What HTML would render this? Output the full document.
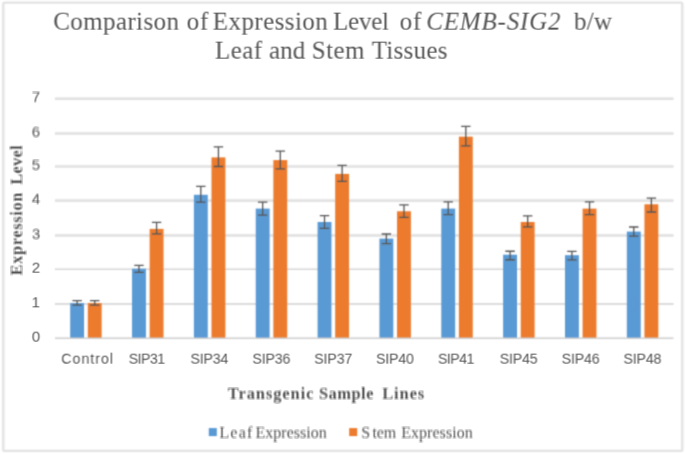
<!DOCTYPE html>
<html>
<head>
<meta charset="utf-8">
<title>Comparison of Expression Level of CEMB-SIG2 b/w Leaf and Stem Tissues</title>
<style>
html, body { margin: 0; padding: 0; background: #ffffff; }
body { width: 685px; height: 454px; overflow: hidden; font-family: "Liberation Sans", sans-serif; }
svg { display: block; }
text { white-space: pre; }
</style>
</head>
<body>
<svg width="685" height="454" viewBox="0 0 685 454">
<defs>
<g id="shapes">
<rect x="-10" y="-10" width="705" height="474" fill="#ffffff"/>
<rect x="3.3" y="2.7" width="679" height="448.2" rx="1.5" ry="1.5" fill="none" stroke="#e3e3e3" stroke-width="2.3"/>
<g stroke="#e1e1e1" stroke-width="2.4">
<line x1="55.0" y1="303.95" x2="673.5" y2="303.95" stroke="#dddddd" stroke-width="2.0"/>
<line x1="55.0" y1="269.30" x2="673.5" y2="269.30" stroke="#d8d8d8" stroke-width="1.5"/>
<line x1="55.0" y1="235.55" x2="673.5" y2="235.55" stroke="#e1e1e1" stroke-width="2.5"/>
<line x1="55.0" y1="200.70" x2="673.5" y2="200.70" stroke="#e3e3e3" stroke-width="2.8"/>
<line x1="55.0" y1="166.50" x2="673.5" y2="166.50" stroke="#e2e2e2" stroke-width="2.6"/>
<line x1="55.0" y1="133.50" x2="673.5" y2="133.50" stroke="#e1e1e1" stroke-width="2.5"/>
<line x1="55.0" y1="98.75" x2="673.5" y2="98.75" stroke="#e1e1e1" stroke-width="2.4"/>
</g>
<g>
<rect x="70.19" y="303.10" width="13.87" height="35.00" fill="#5b9bd5"/>
<rect x="87.80" y="303.10" width="13.87" height="35.00" fill="#ed7d31"/>
<rect x="132.04" y="268.70" width="13.87" height="69.40" fill="#5b9bd5"/>
<rect x="149.65" y="228.90" width="13.87" height="109.20" fill="#ed7d31"/>
<rect x="193.89" y="194.80" width="13.87" height="143.30" fill="#5b9bd5"/>
<rect x="211.50" y="157.40" width="13.87" height="180.70" fill="#ed7d31"/>
<rect x="255.74" y="208.60" width="13.87" height="129.50" fill="#5b9bd5"/>
<rect x="273.35" y="160.10" width="13.87" height="178.00" fill="#ed7d31"/>
<rect x="317.59" y="222.00" width="13.87" height="116.10" fill="#5b9bd5"/>
<rect x="335.20" y="173.90" width="13.87" height="164.20" fill="#ed7d31"/>
<rect x="379.44" y="238.60" width="13.87" height="99.50" fill="#5b9bd5"/>
<rect x="397.05" y="211.30" width="13.87" height="126.80" fill="#ed7d31"/>
<rect x="441.29" y="208.60" width="13.87" height="129.50" fill="#5b9bd5"/>
<rect x="458.90" y="136.65" width="13.87" height="201.45" fill="#ed7d31"/>
<rect x="503.14" y="254.70" width="13.87" height="83.40" fill="#5b9bd5"/>
<rect x="520.75" y="222.00" width="13.87" height="116.10" fill="#ed7d31"/>
<rect x="564.99" y="255.20" width="13.87" height="82.90" fill="#5b9bd5"/>
<rect x="582.60" y="208.60" width="13.87" height="129.50" fill="#ed7d31"/>
<rect x="626.84" y="231.60" width="13.87" height="106.50" fill="#5b9bd5"/>
<rect x="644.45" y="204.30" width="13.87" height="133.80" fill="#ed7d31"/>
</g>
<line x1="55.0" y1="338.30" x2="673.5" y2="338.30" stroke="#d2d2d2" stroke-width="1.5"/>
<g stroke="#595959" stroke-width="1.3" fill="none">
<path d="M77.12 300.70V305.20M72.42 300.70H81.82M72.42 305.20H81.82"/>
<path d="M94.73 300.70V305.20M90.03 300.70H99.43M90.03 305.20H99.43"/>
<path d="M138.97 265.45V272.35M134.27 265.45H143.67M134.27 272.35H143.67"/>
<path d="M156.58 222.40V233.80M151.88 222.40H161.28M151.88 233.80H161.28"/>
<path d="M200.82 186.30V202.20M196.12 186.30H205.52M196.12 202.20H205.52"/>
<path d="M218.43 146.90V166.50M213.73 146.90H223.13M213.73 166.50H223.13"/>
<path d="M262.67 202.10V215.10M257.97 202.10H267.37M257.97 215.10H267.37"/>
<path d="M280.28 151.20V168.90M275.58 151.20H284.98M275.58 168.90H284.98"/>
<path d="M324.52 215.60V228.40M319.82 215.60H329.22M319.82 228.40H329.22"/>
<path d="M342.13 165.40V181.30M337.43 165.40H346.83M337.43 181.30H346.83"/>
<path d="M386.37 234.00V243.70M381.67 234.00H391.07M381.67 243.70H391.07"/>
<path d="M403.98 204.95V217.45M399.28 204.95H408.68M399.28 217.45H408.68"/>
<path d="M448.22 201.90V214.70M443.52 201.90H452.92M443.52 214.70H452.92"/>
<path d="M465.83 126.30V145.80M461.13 126.30H470.53M461.13 145.80H470.53"/>
<path d="M510.07 251.25V259.75M505.37 251.25H514.77M505.37 259.75H514.77"/>
<path d="M527.68 215.80V226.90M522.98 215.80H532.38M522.98 226.90H532.38"/>
<path d="M571.92 251.30V259.80M567.22 251.30H576.62M567.22 259.80H576.62"/>
<path d="M589.53 201.90V214.60M584.83 201.90H594.23M584.83 214.60H594.23"/>
<path d="M633.77 227.00V236.20M629.07 227.00H638.47M629.07 236.20H638.47"/>
<path d="M651.38 198.10V212.00M646.68 198.10H656.08M646.68 212.00H656.08"/>
</g>
<rect x="208.8" y="428.1" width="8" height="8" fill="#5b9bd5"/>
<rect x="349.2" y="428.1" width="8" height="8" fill="#ed7d31"/>
</g>
<g id="texts">
<text x="53.20" y="29.50" font-family="'Liberation Serif', serif" font-size="25" fill="#595959" letter-spacing="0.398">Comparison</text>
<text x="186.65" y="29.50" font-family="'Liberation Serif', serif" font-size="25" fill="#595959" letter-spacing="0.900">of</text>
<text x="212.80" y="29.50" font-family="'Liberation Serif', serif" font-size="25" fill="#595959" letter-spacing="0.434">Expression</text>
<text x="333.10" y="29.50" font-family="'Liberation Serif', serif" font-size="25" fill="#595959" letter-spacing="-0.241">Level</text>
<text x="399.65" y="29.50" font-family="'Liberation Serif', serif" font-size="25" fill="#595959" letter-spacing="0.900">of</text>
<text x="426.30" y="29.50" font-family="'Liberation Serif', serif" font-size="25" fill="#595959" font-style="italic" letter-spacing="0.807">CEMB-SIG2</text>
<text x="574.00" y="29.50" font-family="'Liberation Serif', serif" font-size="25" fill="#595959" letter-spacing="0.277">b/w</text>
<text x="215.00" y="58.60" font-family="'Liberation Serif', serif" font-size="25" fill="#595959" letter-spacing="0.446">Leaf</text>
<text x="269.00" y="58.60" font-family="'Liberation Serif', serif" font-size="25" fill="#595959" letter-spacing="0.052">and</text>
<text x="311.80" y="58.60" font-family="'Liberation Serif', serif" font-size="25" fill="#595959" letter-spacing="0.451">Stem</text>
<text x="371.70" y="58.60" font-family="'Liberation Serif', serif" font-size="25" fill="#595959" letter-spacing="0.285">Tissues</text>
<text x="227.80" y="399.10" font-family="'Liberation Serif', serif" font-size="16.4" fill="#595959" font-weight="bold" letter-spacing="0.949">Transgenic</text>
<text x="319.00" y="399.10" font-family="'Liberation Serif', serif" font-size="16.4" fill="#595959" font-weight="bold" letter-spacing="0.508">Sample</text>
<text x="382.20" y="399.10" font-family="'Liberation Serif', serif" font-size="16.4" fill="#595959" font-weight="bold" letter-spacing="0.951">Lines</text>
<text transform="translate(22.00 275.3) rotate(-90)" x="-0.20" y="0" font-family="'Liberation Serif', serif" font-size="16.4" fill="#595959" font-weight="bold" letter-spacing="0.651">Expression</text>
<text transform="translate(22.00 275.3) rotate(-90)" x="90.50" y="0" font-family="'Liberation Serif', serif" font-size="16.4" fill="#595959" font-weight="bold" letter-spacing="0.276">Level</text>
<text x="219.40" y="438.00" font-family="'Liberation Serif', serif" font-size="16" fill="#595959" letter-spacing="1.208">Leaf</text>
<text x="255.50" y="438.00" font-family="'Liberation Serif', serif" font-size="16" fill="#595959" letter-spacing="0.011">Expression</text>
<text x="361.20" y="438.00" font-family="'Liberation Serif', serif" font-size="16" fill="#595959">S</text>
<text x="372.40" y="438.00" font-family="'Liberation Serif', serif" font-size="16" fill="#595959" letter-spacing="-0.123">tem</text>
<text x="401.20" y="438.00" font-family="'Liberation Serif', serif" font-size="16" fill="#595959" letter-spacing="0.044">Expression</text>
<text x="61.30" y="363.80" font-family="'Liberation Sans', sans-serif" font-size="14.2" fill="#595959" letter-spacing="0.997">Control</text>
<text x="128.70" y="363.80" font-family="'Liberation Sans', sans-serif" font-size="14.2" fill="#595959" letter-spacing="-0.546">SIP31</text>
<text x="190.55" y="363.80" font-family="'Liberation Sans', sans-serif" font-size="14.2" fill="#595959" letter-spacing="-0.221">SIP34</text>
<text x="252.40" y="363.80" font-family="'Liberation Sans', sans-serif" font-size="14.2" fill="#595959" letter-spacing="-0.171">SIP36</text>
<text x="314.25" y="363.80" font-family="'Liberation Sans', sans-serif" font-size="14.2" fill="#595959" letter-spacing="-0.146">SIP37</text>
<text x="376.10" y="363.80" font-family="'Liberation Sans', sans-serif" font-size="14.2" fill="#595959" letter-spacing="-0.196">SIP40</text>
<text x="437.95" y="363.80" font-family="'Liberation Sans', sans-serif" font-size="14.2" fill="#595959" letter-spacing="-0.546">SIP41</text>
<text x="499.80" y="363.80" font-family="'Liberation Sans', sans-serif" font-size="14.2" fill="#595959" letter-spacing="-0.196">SIP45</text>
<text x="561.65" y="363.80" font-family="'Liberation Sans', sans-serif" font-size="14.2" fill="#595959" letter-spacing="-0.171">SIP46</text>
<text x="623.50" y="363.80" font-family="'Liberation Sans', sans-serif" font-size="14.2" fill="#595959" letter-spacing="-0.171">SIP48</text>
<text x="31.85" y="341.70" font-family="'Liberation Sans', sans-serif" font-size="15" fill="#595959">0</text>
<text x="31.60" y="307.35" font-family="'Liberation Sans', sans-serif" font-size="15" fill="#595959">1</text>
<text x="31.85" y="272.70" font-family="'Liberation Sans', sans-serif" font-size="15" fill="#595959">2</text>
<text x="31.90" y="238.95" font-family="'Liberation Sans', sans-serif" font-size="15" fill="#595959">3</text>
<text x="31.85" y="204.10" font-family="'Liberation Sans', sans-serif" font-size="15" fill="#595959">4</text>
<text x="31.80" y="169.90" font-family="'Liberation Sans', sans-serif" font-size="15" fill="#595959">5</text>
<text x="31.80" y="136.90" font-family="'Liberation Sans', sans-serif" font-size="15" fill="#595959">6</text>
<text x="31.85" y="102.15" font-family="'Liberation Sans', sans-serif" font-size="15" fill="#595959">7</text>
</g>
</defs>
<g opacity="1.00000"><use href="#shapes" x="0.000" y="0.000"/><use href="#texts" x="0.000" y="0.000" opacity="0.999"/></g>
<g opacity="0.50000"><use href="#shapes" x="-0.600" y="0.000"/><use href="#texts" x="-0.700" y="0.000" opacity="0.999"/></g>
<g opacity="0.33333"><use href="#shapes" x="0.600" y="0.000"/><use href="#texts" x="0.700" y="0.000" opacity="0.999"/></g>
<g opacity="0.25000"><use href="#shapes" x="0.000" y="-0.600"/><use href="#texts" x="0.000" y="-0.700" opacity="0.999"/></g>
<g opacity="0.20000"><use href="#shapes" x="0.000" y="0.600"/><use href="#texts" x="0.000" y="0.700" opacity="0.999"/></g>
<g opacity="0.16667"><use href="#shapes" x="-0.600" y="-0.600"/><use href="#texts" x="-0.700" y="-0.700" opacity="0.999"/></g>
<g opacity="0.14286"><use href="#shapes" x="0.600" y="-0.600"/><use href="#texts" x="0.700" y="-0.700" opacity="0.999"/></g>
<g opacity="0.12500"><use href="#shapes" x="-0.600" y="0.600"/><use href="#texts" x="-0.700" y="0.700" opacity="0.999"/></g>
<g opacity="0.11111"><use href="#shapes" x="0.600" y="0.600"/><use href="#texts" x="0.700" y="0.700" opacity="0.999"/></g>
</svg>
</body>
</html>
